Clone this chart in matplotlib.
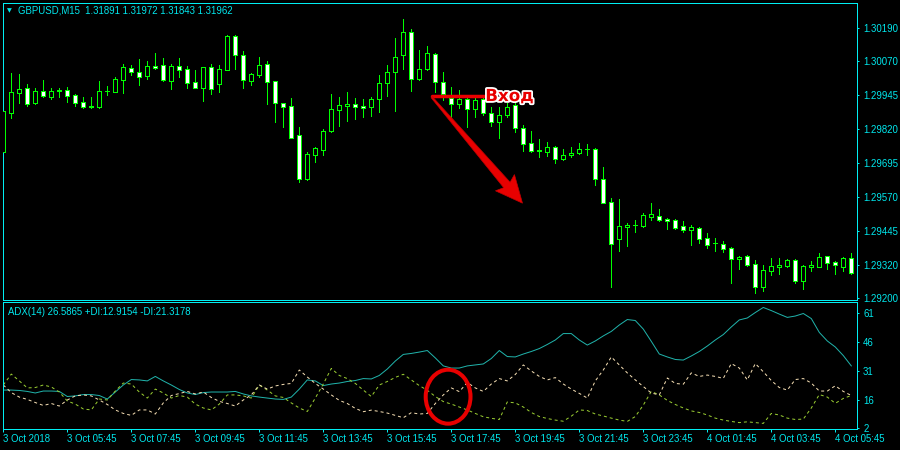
"""
GBPUSD M15 candlestick chart with ADX(14) sub-window, MT4 "green on black" look.
Entry mark ("Вход") with downward arrow and circled DI crossover.
"""

import matplotlib

matplotlib.use("Agg")
import matplotlib.pyplot as plt
import numpy as np
from matplotlib import patheffects
from matplotlib.patches import Ellipse, Polygon
from matplotlib.transforms import IdentityTransform

# ──────────────────────────────────────────────────────────────────────────────
# Data (15-minute bars, 3 Oct 2018 03:45 -> 4 Oct 2018 06:15)
# ──────────────────────────────────────────────────────────────────────────────

opens = [
    1.29735, 1.29880, 1.29953, 1.29969, 1.29916, 1.29959, 1.29938, 1.29964, 1.29963, 1.29945,
    1.29919, 1.29904, 1.29902, 1.29959, 1.29957, 1.30001, 1.30043, 1.30029, 1.30016, 1.30051,
    1.30054, 1.29997, 1.30050, 1.30039, 1.29991, 1.29972, 1.30047, 1.29986, 1.30037, 1.30162,
    1.30092, 1.29997, 1.30018, 1.30059, 1.29996, 1.29914, 1.29904, 1.29798, 1.29635, 1.29725,
    1.29743, 1.29814, 1.29891, 1.29904, 1.29911, 1.29904, 1.29902, 1.29929, 1.29988, 1.30028,
    1.30092, 1.30175, 1.30002, 1.30039, 1.30095, 1.29991, 1.29933, 1.29911, 1.29929, 1.29892,
    1.29929, 1.29880, 1.29847, 1.29871, 1.29908, 1.29822, 1.29767, 1.29743, 1.29736, 1.29753,
    1.29708, 1.29724, 1.29730, 1.29747, 1.29747, 1.29635, 1.29550, 1.29414, 1.29458, 1.29465,
    1.29464, 1.29497, 1.29500, 1.29489, 1.29485, 1.29463, 1.29450, 1.29456, 1.29418, 1.29401,
    1.29396, 1.29381, 1.29341, 1.29352, 1.29322, 1.29238, 1.29299, 1.29314, 1.29316, 1.29338,
    1.29262, 1.29314, 1.29314, 1.29352, 1.29330, 1.29314, 1.29344,
]
highs = [
    1.29912, 1.30026, 1.30022, 1.29985, 1.29969, 1.30000, 1.29970, 1.29969, 1.29973, 1.29948,
    1.29936, 1.29937, 1.29996, 1.29978, 1.30011, 1.30059, 1.30055, 1.30077, 1.30070, 1.30099,
    1.30081, 1.30059, 1.30081, 1.30051, 1.30037, 1.30049, 1.30059, 1.30055, 1.30165, 1.30165,
    1.30108, 1.30024, 1.30084, 1.30070, 1.29998, 1.29917, 1.29934, 1.29826, 1.29734, 1.29754,
    1.29820, 1.29948, 1.29936, 1.29956, 1.29933, 1.29930, 1.29938, 1.30018, 1.30055, 1.30153,
    1.30224, 1.30186, 1.30110, 1.30126, 1.30100, 1.30029, 1.29973, 1.29963, 1.29938, 1.29938,
    1.29938, 1.29902, 1.29902, 1.29914, 1.29914, 1.29834, 1.29812, 1.29782, 1.29773, 1.29757,
    1.29745, 1.29755, 1.29767, 1.29765, 1.29750, 1.29681, 1.29565, 1.29561, 1.29475, 1.29484,
    1.29510, 1.29547, 1.29525, 1.29494, 1.29489, 1.29481, 1.29467, 1.29461, 1.29436, 1.29419,
    1.29408, 1.29385, 1.29353, 1.29355, 1.29338, 1.29319, 1.29347, 1.29347, 1.29342, 1.29341,
    1.29318, 1.29334, 1.29364, 1.29354, 1.29333, 1.29350, 1.29363,
]
lows = [
    1.29731, 1.29861, 1.29916, 1.29904, 1.29912, 1.29938, 1.29930, 1.29938, 1.29920, 1.29904,
    1.29898, 1.29898, 1.29898, 1.29945, 1.29956, 1.29953, 1.30018, 1.29982, 1.30004, 1.30042,
    1.29997, 1.29968, 1.30010, 1.29970, 1.29969, 1.29924, 1.29948, 1.29957, 1.30035, 1.30040,
    1.29970, 1.29982, 1.30012, 1.29912, 1.29846, 1.29828, 1.29786, 1.29626, 1.29632, 1.29700,
    1.29724, 1.29810, 1.29831, 1.29850, 1.29857, 1.29863, 1.29868, 1.29883, 1.29941, 1.29887,
    1.30039, 1.29961, 1.30000, 1.30037, 1.29957, 1.29926, 1.29865, 1.29896, 1.29828, 1.29865,
    1.29871, 1.29831, 1.29786, 1.29863, 1.29810, 1.29739, 1.29735, 1.29718, 1.29722, 1.29696,
    1.29706, 1.29716, 1.29728, 1.29725, 1.29614, 1.29547, 1.29240, 1.29372, 1.29391, 1.29442,
    1.29461, 1.29485, 1.29481, 1.29452, 1.29452, 1.29442, 1.29393, 1.29402, 1.29382, 1.29372,
    1.29366, 1.29255, 1.29304, 1.29317, 1.29218, 1.29225, 1.29283, 1.29287, 1.29314, 1.29255,
    1.29233, 1.29299, 1.29311, 1.29306, 1.29287, 1.29299, 1.29287,
]
closes = [
    1.29886, 1.29955, 1.29967, 1.29913, 1.29959, 1.29942, 1.29959, 1.29958, 1.29942, 1.29916,
    1.29902, 1.29901, 1.29959, 1.29961, 1.30004, 1.30048, 1.30030, 1.30012, 1.30050, 1.30045,
    1.30001, 1.30050, 1.30038, 1.29990, 1.29972, 1.30047, 1.29968, 1.30040, 1.30162, 1.30091,
    1.30000, 1.30022, 1.30055, 1.29994, 1.29916, 1.29902, 1.29788, 1.29635, 1.29727, 1.29749,
    1.29812, 1.29893, 1.29907, 1.29910, 1.29900, 1.29898, 1.29929, 1.29988, 1.30028, 1.30086,
    1.30177, 1.30002, 1.30039, 1.30098, 1.29991, 1.29948, 1.29911, 1.29929, 1.29892, 1.29926,
    1.29880, 1.29847, 1.29871, 1.29900, 1.29822, 1.29765, 1.29739, 1.29739, 1.29755, 1.29708,
    1.29724, 1.29733, 1.29746, 1.29745, 1.29635, 1.29549, 1.29396, 1.29462, 1.29467, 1.29467,
    1.29502, 1.29507, 1.29485, 1.29483, 1.29457, 1.29448, 1.29458, 1.29416, 1.29394, 1.29399,
    1.29377, 1.29341, 1.29349, 1.29320, 1.29238, 1.29301, 1.29316, 1.29320, 1.29338, 1.29262,
    1.29316, 1.29320, 1.29349, 1.29328, 1.29319, 1.29344, 1.29291,
]

adx = [
    21.3, 21.3, 21.1, 20.6, 19.8, 20.8, 20.8, 20.6, 18.0, 18.3,
    19.0, 19.0, 18.5, 16.7, 20.3, 23.9, 26.7, 26.5, 26.0, 28.3,
    26.0, 23.9, 21.6, 19.8, 19.0, 20.0, 20.3, 20.3, 20.3, 20.6,
    19.3, 18.3, 17.7, 17.2, 16.7, 16.5, 17.7, 21.8, 26.5, 26.0,
    23.6, 24.4, 24.9, 25.7, 26.2, 27.2, 27.0, 28.8, 32.1, 36.2,
    39.6, 40.1, 40.8, 41.6, 37.8, 33.7, 32.6, 32.6, 33.7, 34.2,
    34.7, 37.5, 41.6, 38.5, 38.3, 39.8, 41.1, 42.6, 44.7, 47.0,
    50.3, 50.3, 47.0, 44.4, 46.5, 49.1, 51.4, 54.7, 57.5, 57.0,
    52.6, 46.3, 39.8, 38.3, 37.0, 36.7, 38.8, 41.1, 43.9, 47.0,
    49.8, 53.7, 57.3, 58.3, 61.1, 63.7, 62.1, 60.3, 58.6, 59.3,
    60.6, 58.0, 50.9, 46.5, 43.4, 39.0, 33.7,
]
plus_di = [
    23.9, 29.5, 26.0, 22.4, 22.6, 23.9, 22.9, 20.3, 15.7, 14.1,
    11.6, 11.1, 16.7, 16.2, 20.8, 24.9, 24.4, 20.3, 17.2, 21.8,
    19.8, 17.2, 18.5, 17.7, 14.1, 12.1, 11.1, 14.1, 18.8, 18.8,
    18.3, 17.2, 23.9, 21.3, 18.3, 17.5, 14.7, 12.1, 10.3, 17.2,
    24.4, 32.4, 28.8, 27.2, 24.7, 21.3, 18.0, 23.9, 25.7, 27.8,
    29.4, 26.5, 23.6, 21.2, 18.0, 15.4, 14.1, 12.6, 11.1, 9.3,
    7.6, 6.8, 6.2, 15.2, 14.7, 12.6, 9.8, 7.7, 6.7, 5.9,
    5.3, 7.9, 11.1, 10.8, 9.0, 8.0, 6.9, 5.9, 5.2, 7.7,
    13.6, 20.6, 18.8, 16.0, 13.9, 12.1, 10.6, 9.8, 8.5, 6.9,
    5.9, 5.2, 4.6, 5.0, 4.6, 4.2, 9.3, 8.5, 6.9, 6.2,
    6.4, 12.1, 19.0, 17.7, 14.5, 17.0, 18.5,
]
minus_di = [
    23.9, 20.0, 17.7, 16.5, 14.9, 13.4, 14.4, 13.1, 16.2, 18.3,
    18.8, 18.3, 16.2, 13.9, 11.1, 9.3, 8.3, 11.1, 11.1, 9.0,
    14.7, 18.5, 19.5, 20.6, 19.3, 20.3, 17.5, 15.5, 14.4, 13.1,
    16.2, 18.8, 23.9, 21.8, 23.4, 24.2, 24.7, 31.6, 28.0, 24.7,
    21.8, 18.8, 16.0, 14.4, 11.9, 10.2, 11.0, 10.3, 9.5, 8.3,
    7.1, 9.7, 9.0, 9.3, 14.4, 18.8, 22.4, 20.5, 25.2, 22.4,
    20.6, 24.4, 27.2, 26.0, 29.3, 34.2, 31.1, 28.3, 26.5, 27.7,
    24.4, 21.8, 19.6, 17.2, 26.0, 31.6, 38.3, 34.2, 30.1, 26.5,
    23.1, 19.8, 18.8, 27.5, 24.7, 24.3, 30.1, 28.3, 29.0, 28.3,
    27.3, 34.9, 32.6, 26.5, 34.9, 30.7, 26.2, 22.6, 21.3, 26.7,
    27.2, 24.9, 20.8, 20.8, 23.5, 20.6, 18.5,
]

time_labels = [
    "3 Oct 2018", "3 Oct 05:45", "3 Oct 07:45", "3 Oct 09:45", "3 Oct 11:45",
    "3 Oct 13:45", "3 Oct 15:45", "3 Oct 17:45", "3 Oct 19:45", "3 Oct 21:45",
    "3 Oct 23:45", "4 Oct 01:45", "4 Oct 03:45", "4 Oct 05:45",
]
price_ticks = [1.30190, 1.30070, 1.29945, 1.29820, 1.29695, 1.29570, 1.29445, 1.29320, 1.29200]
adx_ticks = [61, 46, 31, 16, 2]

title_text = "GBPUSD,M15  1.31891 1.31972 1.31843 1.31962"
adx_text = "ADX(14) 26.5865 +DI:12.9154 -DI:21.3178"

entry_price = 1.29941
entry_bars = (53.55, 60.2)
arrow_from = (53.55, 1.29937)
arrow_to = (64.9, 1.29547)
cross_center = (55.6, 17.9)

# ──────────────────────────────────────────────────────────────────────────────
# Style
# ──────────────────────────────────────────────────────────────────────────────

FRAME = "#00eef2"
TEXT = "#00e8ee"
BAR = "#00ff00"
RED = "#e80000"
PX = 0.72  # one pixel in points at 100 dpi
FONT = {"family": "Liberation Sans", "size": 6.9}

plt.rcParams["font.family"] = ["Liberation Sans", "DejaVu Sans"]

n = len(closes)
x = np.arange(n)
o, h, l, c = (np.array(a) for a in (opens, highs, lows, closes))

fig = plt.figure(figsize=(9, 4.5), dpi=100, facecolor="black")
W, H = 900.0, 450.0
ax = fig.add_axes([2.7 / W, 1 - 300 / H, 854.6 / W, 297.3 / H], facecolor="black")
ax2 = fig.add_axes([2.7 / W, 1 - 429.3 / H, 854.6 / W, 127.0 / H], facecolor="black")

for a in (ax, ax2):
    for s in a.spines.values():
        s.set_color(FRAME)
        s.set_linewidth(PX)
    a.set_xlim(-0.075, 106.75)
    a.yaxis.tick_right()
    a.tick_params(axis="y", colors=FRAME, labelcolor=TEXT, length=1.6, width=PX,
                  pad=2.6, labelsize=FONT["size"])

# ──────────────────────────────────────────────────────────────────────────────
# Candles
# ──────────────────────────────────────────────────────────────────────────────

ax.vlines(x, l, h, color=BAR, linewidth=PX, zorder=2, antialiased=False)
bull = c >= o
body_w = 0.5
ax.bar(x[bull], (c - o)[bull], bottom=o[bull], width=body_w, color="black",
       edgecolor=BAR, linewidth=PX, zorder=3, antialiased=False)
ax.bar(x[~bull], (c - o)[~bull], bottom=o[~bull], width=body_w, color="white",
       edgecolor=BAR, linewidth=PX, zorder=3, antialiased=False)

ax.set_ylim(1.291911, 1.302841)
ax.set_yticks(price_ticks)
ax.set_yticklabels([f"{p:.5f}" for p in price_ticks])
ax.set_xticks([])

fig.text(9 / W, 1 - 10.5 / H, "▼", color=TEXT, fontsize=4.5, ha="center", va="center",
         family="DejaVu Sans")
fig.text(18 / W, 1 - 10.8 / H, title_text, color=TEXT, ha="left", va="center", **FONT)

# Entry line, label and arrow
ax.plot(entry_bars, [entry_price, entry_price], color=RED, linewidth=2.5,
        solid_capstyle="round", zorder=5)
lbl = ax.text(entry_bars[1] + 0.05, entry_price, "Вход", color=RED, fontsize=12,
              fontweight="bold", family="DejaVu Sans", ha="left", va="center", zorder=6)
lbl.set_path_effects([patheffects.withStroke(linewidth=2.6, foreground="white")])

fig.canvas.draw()
p0 = ax.transData.transform(arrow_from)
p1 = ax.transData.transform(arrow_to)
u = (p1 - p0) / np.hypot(*(p1 - p0))
nv = np.array([-u[1], u[0]])
head_len, head_half, w0, w1 = 24.0, 12.5, 0.8, 4.2
base = p1 - u * head_len
wing_back = base - u * 3.0
pts = [p0 + nv * w0, base + nv * w1, wing_back + nv * head_half, p1,
       wing_back - nv * head_half, base - nv * w1, p0 - nv * w0]
ax.add_patch(Polygon(pts, closed=True, facecolor=RED, edgecolor="#c00000",
                     linewidth=0.5, transform=IdentityTransform(), zorder=5))

# ──────────────────────────────────────────────────────────────────────────────
# ADX sub-window
# ──────────────────────────────────────────────────────────────────────────────

ax2.plot(x, adx, color="#20b2aa", linewidth=PX)
ax2.plot(x, plus_di, color="#9acd32", linewidth=PX, linestyle=(0, (3, 3)))
ax2.plot(x, minus_di, color="#f5deb3", linewidth=PX, linestyle=(0, (3, 3)))
ax2.add_patch(Ellipse(cross_center, 5.6, 27.7, facecolor="none", edgecolor=RED,
                      linewidth=2.9, zorder=5))

ax2.set_ylim(1.16, 66.35)
ax2.set_yticks(adx_ticks)
ax2.set_yticklabels([str(t) for t in adx_ticks])
ax2.set_xticks(np.arange(0, n, 8)[: len(time_labels)])
ax2.set_xticklabels(time_labels)
ax2.tick_params(axis="x", colors=FRAME, labelcolor=TEXT, length=2.2, width=PX,
                pad=1.5, labelsize=FONT["size"])
for t in ax2.get_xticklabels():
    t.set_ha("left")

fig.text(8 / W, 1 - 312 / H, adx_text, color=TEXT, ha="left", va="center", **FONT)

fig.savefig("out.png", dpi=100, facecolor="black")
